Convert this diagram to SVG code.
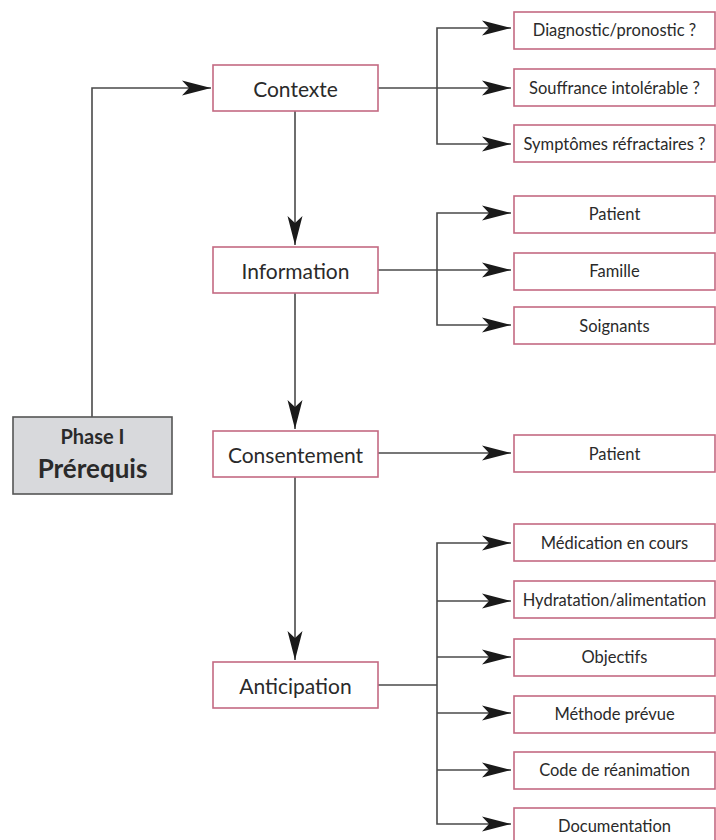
<svg xmlns="http://www.w3.org/2000/svg" width="716" height="840" viewBox="0 0 716 840">
<defs>
<marker id="ah" markerUnits="userSpaceOnUse" markerWidth="32" markerHeight="18" viewBox="-30 -9 32 18" refX="0" refY="0" orient="auto">
<path d="M0,0 L-29,-7.5 L-22,0 L-29,7.5 Z" fill="#1a1a1a"/>
</marker>
<style>
.n rect{fill:#fff;stroke:#c46a82;stroke-width:1.6}
.n text{font-family:Lato,"Open Sans",sans-serif;fill:#2a2a2a;text-anchor:middle;dominant-baseline:central}
.m text{font-size:21px}
.s text{font-size:16.5px}
.c path{fill:none;stroke:#4a4a4a;stroke-width:1.6}
</style>
</defs>
<rect width="716" height="840" fill="#fff"/>
<g class="c">
<path d="M92,417 V88 H211" marker-end="url(#ah)"/>
<path d="M295,111 V245" marker-end="url(#ah)"/>
<path d="M295,293 V429" marker-end="url(#ah)"/>
<path d="M295,477 V660" marker-end="url(#ah)"/>
<path d="M378,88 H511" marker-end="url(#ah)"/>
<path d="M437,88 V28 H511" marker-end="url(#ah)"/>
<path d="M437,88 V144 H511" marker-end="url(#ah)"/>
<path d="M378,270 H511" marker-end="url(#ah)"/>
<path d="M437,270 V213 H511" marker-end="url(#ah)"/>
<path d="M437,270 V325 H511" marker-end="url(#ah)"/>
<path d="M378,453 H511" marker-end="url(#ah)"/>
<path d="M378,685 H437"/>
<path d="M437,685 V543 H511" marker-end="url(#ah)"/>
<path d="M437,601 H511" marker-end="url(#ah)"/>
<path d="M437,657 H511" marker-end="url(#ah)"/>
<path d="M437,713 H511" marker-end="url(#ah)"/>
<path d="M437,770 H511" marker-end="url(#ah)"/>
<path d="M437,685 V824 H511" marker-end="url(#ah)"/>
</g>
<g id="phase">
<rect x="13" y="417" width="159" height="77" fill="#d8d9dc" stroke="#555" stroke-width="1.6"/>
<text x="92.5" y="444" font-family="Lato,'Open Sans',sans-serif" font-weight="bold" font-size="20" fill="#2a2a2a" text-anchor="middle">Phase I</text>
<text x="92.5" y="478" font-family="Lato,'Open Sans',sans-serif" font-weight="bold" font-size="26" fill="#2a2a2a" text-anchor="middle">Prérequis</text>
</g>
<g id="contexte" class="n m"><rect x="213" y="65" width="165" height="46"/><text x="295.5" y="88">Contexte</text></g>
<g id="information" class="n m"><rect x="213" y="247" width="165" height="46"/><text x="295.5" y="270">Information</text></g>
<g id="consentement" class="n m"><rect x="213" y="431" width="165" height="46"/><text x="295.5" y="454">Consentement</text></g>
<g id="anticipation" class="n m"><rect x="213" y="662" width="165" height="46"/><text x="295.5" y="685">Anticipation</text></g>
<g id="diagnostic" class="n s"><rect x="514" y="12" width="201" height="37"/><text x="614.5" y="30">Diagnostic/pronostic ?</text></g>
<g id="souffrance" class="n s"><rect x="514" y="69" width="201" height="37"/><text x="614.5" y="88">Souffrance intolérable ?</text></g>
<g id="symptomes" class="n s"><rect x="514" y="125" width="201" height="37"/><text x="614.5" y="144">Symptômes réfractaires ?</text></g>
<g id="patient1" class="n s"><rect x="514" y="196" width="201" height="37"/><text x="614.5" y="214">Patient</text></g>
<g id="famille" class="n s"><rect x="514" y="253" width="201" height="37"/><text x="614.5" y="271">Famille</text></g>
<g id="soignants" class="n s"><rect x="514" y="307" width="201" height="37"/><text x="614.5" y="326">Soignants</text></g>
<g id="patient2" class="n s"><rect x="514" y="435" width="201" height="37"/><text x="614.5" y="454">Patient</text></g>
<g id="medication" class="n s"><rect x="514" y="524" width="201" height="37"/><text x="614.5" y="543">Médication en cours</text></g>
<g id="hydratation" class="n s"><rect x="514" y="581" width="201" height="37"/><text x="614.5" y="600">Hydratation/alimentation</text></g>
<g id="objectifs" class="n s"><rect x="514" y="639" width="201" height="37"/><text x="614.5" y="657">Objectifs</text></g>
<g id="methode" class="n s"><rect x="514" y="696" width="201" height="37"/><text x="614.5" y="714">Méthode prévue</text></g>
<g id="code" class="n s"><rect x="514" y="752" width="201" height="37"/><text x="614.5" y="770">Code de réanimation</text></g>
<g id="documentation" class="n s"><rect x="514" y="808" width="201" height="37"/><text x="614.5" y="826">Documentation</text></g>
</svg>
